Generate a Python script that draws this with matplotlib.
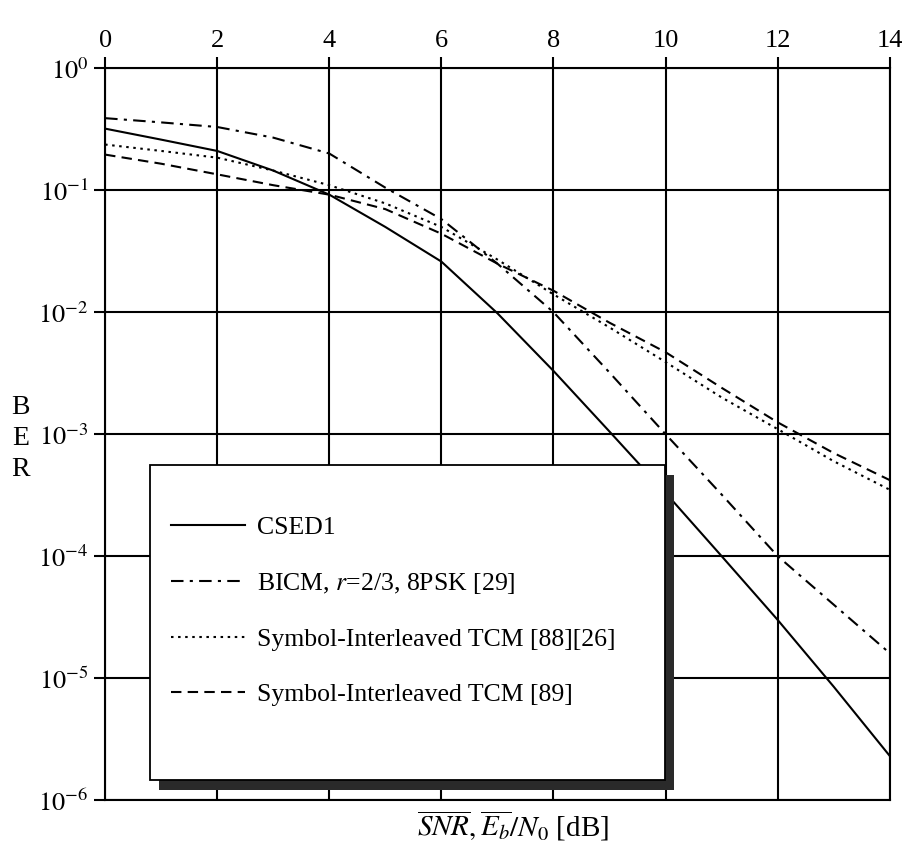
import matplotlib
matplotlib.use("Agg")
import matplotlib.pyplot as plt
from matplotlib.patches import Rectangle
import numpy as np

plt.rcParams['font.family'] = ['Liberation Serif', 'DejaVu Serif']
plt.rcParams['mathtext.fontset'] = 'stix'

snr = [0, 1, 2, 3, 4, 5, 6, 7, 8, 9, 10, 11, 12, 13, 14]
ber_csed1 = [0.32, 0.26, 0.21, 0.145, 0.092, 0.05, 0.026, 0.0098, 0.0033, 0.00105,
             3.3e-4, 1.0e-4, 3.0e-5, 8.5e-6, 2.3e-6]
ber_bicm = [0.39, 0.36, 0.33, 0.27, 0.2, 0.105, 0.058, 0.025, 0.01, 0.0032,
            0.001, 3.2e-4, 1.0e-4, 4e-5, 1.6e-5]
ber_tcm_88 = [0.237, 0.21, 0.185, 0.145, 0.11, 0.078, 0.05, 0.027, 0.014, 0.0075,
              0.0039, 0.002, 0.0011, 6e-4, 3.5e-4]
ber_tcm_89 = [0.196, 0.165, 0.135, 0.11, 0.092, 0.07, 0.044, 0.025, 0.015, 0.0082,
              0.0047, 0.0024, 0.00125, 7e-4, 4.2e-4]

labels = ["CSED1", r"BICM, $r$=2/3, 8PSK [29]",
          "Symbol-Interleaved TCM [88][26]", "Symbol-Interleaved TCM [89]"]
xticks = [0, 2, 4, 6, 8, 10, 12, 14]
yticks = [1e0, 1e-1, 1e-2, 1e-3, 1e-4, 1e-5, 1e-6]
ytick_labels = [r"$10^{0}$", r"$10^{-1}$", r"$10^{-2}$", r"$10^{-3}$",
                r"$10^{-4}$", r"$10^{-5}$", r"$10^{-6}$"]

fig = plt.figure(figsize=(9.22, 8.43), dpi=100)
ax = fig.add_axes([0.114, 0.051, 0.851, 0.868])

lw = 1.5
l1, = ax.plot(snr, ber_csed1, color='black', lw=lw, linestyle='-')
l2, = ax.plot(snr, ber_bicm, color='black', lw=lw, dashes=(6, 3, 1.5, 3))
l3, = ax.plot(snr, ber_tcm_88, color='black', lw=lw, dashes=(1.2, 2.2))
l4, = ax.plot(snr, ber_tcm_89, color='black', lw=lw, dashes=(5, 3))

ax.set_yscale('log')
ax.set_xlim(0, 14)
ax.set_ylim(1e-6, 1e0)
ax.set_xticks(xticks)
ax.set_xticklabels([str(v) for v in xticks])
ax.set_yticks(yticks)
ax.set_yticklabels(ytick_labels)
ax.minorticks_off()
ax.xaxis.tick_top()
ax.tick_params(axis='x', which='both', top=True, bottom=False, direction='out',
               length=8, width=1.5, labelsize=19, pad=4)
ax.tick_params(axis='y', which='both', left=True, right=False, direction='out',
               length=8, width=1.5, labelsize=19, pad=4)
ax.grid(True, color='black', lw=1.5)
for s in ax.spines.values():
    s.set_linewidth(1.5)

ax.set_xlabel(r"$\overline{SNR}, \overline{E_b}/N_0$ [dB]", fontsize=21, labelpad=2)
ax.xaxis.set_label_coords(0.52, -0.012)
ax.xaxis.label.set_va('top')
fig.text(0.022, 0.48, "B\nE\nR", fontsize=20, ha='center', va='center',
         linespacing=1.3)

# legend frame with shadow
x0, y0, w, h = 0.057, 0.027, 0.656, 0.431
ax.add_patch(Rectangle((x0 + 0.012, y0 - 0.014), w, h, transform=ax.transAxes,
                       facecolor='#2a2a2a', edgecolor='none', zorder=5, clip_on=False))
ax.add_patch(Rectangle((x0, y0), w, h, transform=ax.transAxes,
                       facecolor='white', edgecolor='black', lw=1.3, zorder=6,
                       clip_on=False))
leg = ax.legend([l1, l2, l3, l4], labels, loc='upper left',
                bbox_to_anchor=(x0 + 0.004, y0 + h - 0.045), frameon=False,
                fontsize=18.5, handlelength=2.9, handletextpad=0.45,
                labelspacing=1.25, borderpad=0.2)
leg.set_zorder(7)

fig.savefig("out.png", dpi=100)
